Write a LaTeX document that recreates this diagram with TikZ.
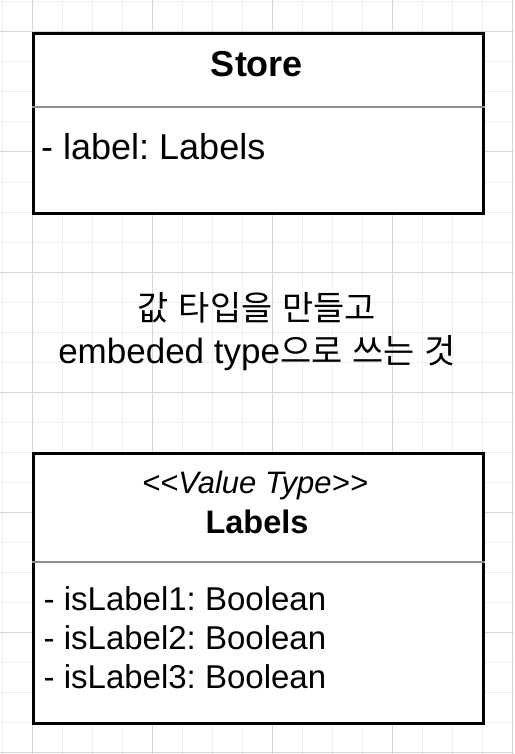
\documentclass[tikz,border=0pt]{standalone}
\usepackage{fontspec}
\setmainfont{Liberation Sans}
\newfontfamily\kr{Noto Sans CJK KR}[Scale=0.97]
\frenchspacing
\definecolor{minorgrid}{HTML}{EFEFEF}
\definecolor{majorgrid}{HTML}{D6D6D6}
\definecolor{divcol}{HTML}{8E8E8E}
\tikzset{
  minorline/.style={draw=minorgrid, line width=1pt},
  majorline/.style={draw=majorgrid, line width=1pt},
  classbox/.style={draw=black, line width=2.6pt, fill=white, inner sep=0pt, anchor=north west, minimum width=450pt},
  divider/.style={draw=divcol, line width=2pt},
  txt/.style={inner sep=0pt, anchor=base west},
  ctxt/.style={inner sep=0pt, anchor=base},
}
\begin{document}
\begin{tikzpicture}[x=1pt,y=-1pt]
\useasboundingbox (0,0) rectangle (514,754);
\fill[white] (0,0) rectangle (514,754);
% grid
\foreach \k in {0,...,17} \draw[minorline] (2+30*\k,0) -- (2+30*\k,754);
\foreach \k in {0,...,25} \draw[minorline] (0,2+30*\k) -- (514,2+30*\k);
\foreach \v in {32,152,272,392,512} \draw[majorline] (\v,0) -- (\v,754);
\foreach \v in {32,152,272,392,512,632,752} \draw[majorline] (0,\v) -- (514,\v);
% Store class
\node[classbox, minimum height=180pt] (store) at (32,32) {};
\draw[divider] ([yshift=-75pt]store.north west) -- ([yshift=-75pt]store.north east);
\node[ctxt, font=\bfseries\fontsize{36}{40}\selectfont] (storename) at (257,77) {Store};
\node[txt, font=\fontsize{36}{40}\selectfont] (storeattr) at (41,160) {- label: Labels};
% note text
\node[ctxt, font=\fontsize{35}{40}\selectfont] (note1) at (257,320) {{\kr 값} {\kr 타입을} {\kr 만들고}};
\node[ctxt, font=\fontsize{35}{40}\selectfont] (note2) at (257,363) {embeded type{\kr 으로} {\kr 쓰는} {\kr 것}};
% Labels class
\node[classbox, minimum height=270pt] (labels) at (32,452) {};
\draw[divider] ([yshift=-110pt]labels.north west) -- ([yshift=-110pt]labels.north east);
\node[ctxt, font=\itshape\fontsize{31}{36}\selectfont] (stereo) at (255,493) {{<}{<}Value Type{>}{>}};
\node[ctxt, font=\bfseries\fontsize{32.5}{36}\selectfont] (labelsname) at (257,533) {Labels};
\node[txt, font=\fontsize{33}{36}\selectfont] (a1) at (43.5,610) {- isLabel1: Boolean};
\node[txt, font=\fontsize{33}{36}\selectfont] (a2) at (43.5,649) {- isLabel2: Boolean};
\node[txt, font=\fontsize{33}{36}\selectfont] (a3) at (43.5,688) {- isLabel3: Boolean};
\end{tikzpicture}
\end{document}
